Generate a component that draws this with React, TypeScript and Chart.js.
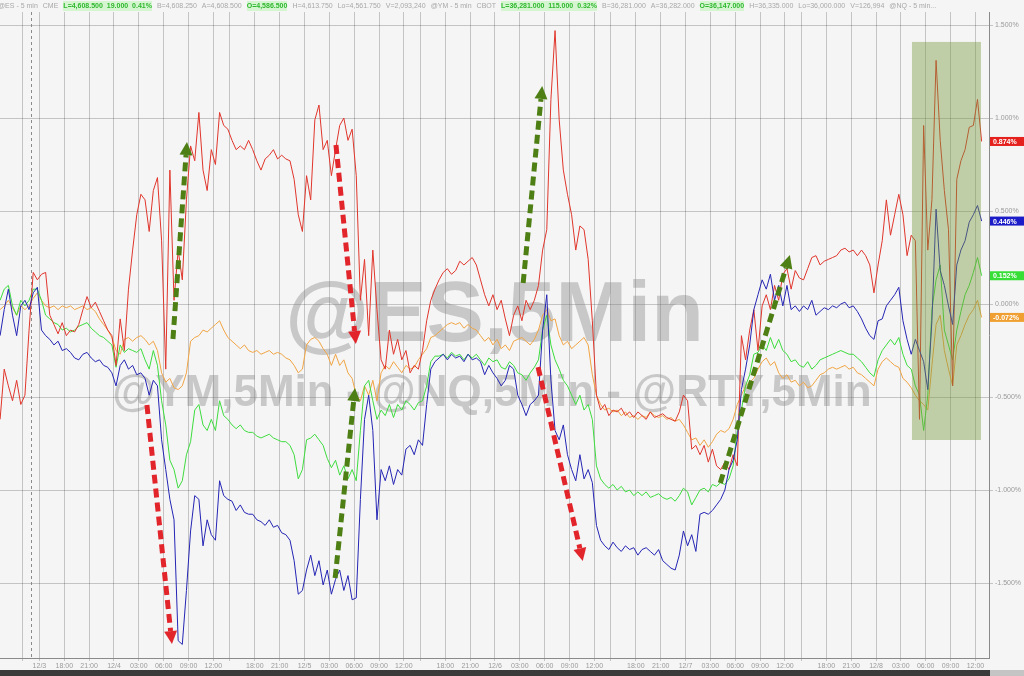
import React, { useEffect, useRef } from 'react';
import { Chart, registerables } from 'chart.js';

Chart.register(...registerables);

// ---- time grid (5-min bars sampled every half hour, hours from 12/4 00:00 on the session clock) ----
const START_HOUR = -13.75;
const STEP_HOURS = 0.5;

// ---- series values (% change) ----
const RTY_RED = [
  -0.62,-0.35,-0.44,-0.52,-0.41,-0.54,-0.49,-0.14,0.17,0.13,
  0.16,0.17,-0.06,-0.11,-0.16,-0.10,-0.17,-0.14,-0.15,-0.11,
  -0.03,0.04,-0.02,0.01,-0.04,-0.09,-0.14,-0.17,-0.33,-0.08,
  -0.25,0.08,0.29,0.48,0.59,0.56,0.39,0.61,0.68,0.34,
  -0.35,0.72,0.02,0.29,0.13,0.56,0.85,0.77,1.03,0.72,
  0.61,0.83,0.75,1.03,0.96,0.94,0.88,0.83,0.85,0.83,
  0.88,0.83,0.77,0.72,0.78,0.80,0.83,0.78,0.80,0.78,
  0.77,0.67,0.48,0.39,0.69,0.56,0.99,1.07,0.83,0.88,
  0.69,0.83,0.96,1.00,0.88,0.94,0.69,0.02,0.24,-0.17,
  0.29,-0.03,-0.30,-0.35,-0.14,-0.27,-0.19,-0.30,-0.25,-0.37,
  -0.33,-0.35,-0.25,-0.09,0.02,0.08,0.13,0.17,0.19,0.16,
  0.18,0.23,0.21,0.23,0.25,0.21,0.13,0.05,-0.01,0.05,
  -0.03,0.02,-0.08,-0.17,-0.06,-0.01,-0.09,0.02,-0.03,0.02,
  0.10,0.29,0.40,1.10,1.47,0.99,0.72,0.59,0.48,0.29,
  0.42,0.40,0.24,-0.09,-0.49,-0.57,-0.54,-0.60,-0.57,-0.58,
  -0.56,-0.60,-0.58,-0.61,-0.58,-0.60,-0.62,-0.58,-0.61,-0.60,
  -0.59,-0.61,-0.62,-0.63,-0.58,-0.49,-0.52,-0.78,-0.76,-0.81,
  -0.76,-0.85,-0.78,-0.87,-0.89,-0.85,-0.89,-0.81,-0.87,-0.17,
  -0.30,-0.14,-0.03,-0.25,-0.01,0.05,-0.03,0.10,0.02,0.16,
  0.19,0.08,0.18,0.14,0.13,0.19,0.25,0.26,0.21,0.23,
  0.24,0.25,0.26,0.29,0.30,0.28,0.29,0.26,0.29,0.26,
  0.21,0.06,0.21,0.34,0.56,0.37,0.48,0.59,0.48,0.26,
  0.37,0.34,-0.62,0.96,0.29,0.56,1.31,0.88,0.61,0.40,
  -0.44,0.67,0.77,0.83,0.95,0.96,1.10,0.874
];

const NQ_BLUE = [
  -0.17,-0.03,0.08,-0.06,-0.17,-0.01,0.02,-0.03,0.06,0.09,
  -0.14,-0.17,-0.19,-0.22,-0.20,-0.25,-0.24,-0.26,-0.29,-0.30,
  -0.27,-0.26,-0.29,-0.31,-0.30,-0.33,-0.34,-0.37,-0.44,-0.33,
  -0.30,-0.35,-0.33,-0.38,-0.37,-0.40,-0.49,-0.41,-0.44,-0.73,
  -0.89,-1.05,-1.16,-1.81,-1.83,-1.54,-1.22,-1.03,-1.05,-1.30,
  -1.16,-1.24,-1.27,-0.95,-1.03,-1.05,-1.06,-1.11,-1.08,-1.12,
  -1.13,-1.13,-1.16,-1.17,-1.19,-1.16,-1.20,-1.19,-1.23,-1.24,
  -1.27,-1.38,-1.56,-1.54,-1.43,-1.35,-1.46,-1.38,-1.51,-1.43,
  -1.56,-1.48,-1.43,-1.54,-1.46,-1.59,-1.58,-1.05,-0.62,-0.49,
  -0.68,-1.16,-0.89,-0.95,-0.87,-0.97,-0.89,-0.92,-0.78,-0.76,
  -0.81,-0.73,-0.76,-0.54,-0.35,-0.31,-0.29,-0.27,-0.30,-0.27,
  -0.29,-0.28,-0.31,-0.27,-0.30,-0.29,-0.31,-0.38,-0.33,-0.37,
  -0.40,-0.44,-0.41,-0.33,-0.35,-0.49,-0.54,-0.60,-0.54,-0.52,
  -0.49,-0.14,0.05,-0.41,-0.68,-0.73,-0.65,-0.81,-0.89,-0.95,
  -0.81,-0.94,-0.89,-0.96,-1.19,-1.27,-1.30,-1.32,-1.28,-1.31,
  -1.33,-1.30,-1.32,-1.31,-1.35,-1.32,-1.31,-1.33,-1.35,-1.32,
  -1.38,-1.40,-1.42,-1.43,-1.35,-1.22,-1.30,-1.24,-1.33,-1.13,
  -1.12,-1.13,-1.11,-1.08,-1.05,-1.00,-0.89,-0.84,-0.73,-0.46,
  -0.35,-0.22,-0.03,0.05,0.13,0.08,0.16,0.02,0.10,-0.01,
  0.10,-0.03,-0.01,-0.04,-0.01,-0.03,0.02,-0.06,-0.04,-0.02,
  -0.03,-0.01,-0.02,0.00,0.01,-0.02,-0.01,-0.04,-0.08,-0.13,
  -0.17,-0.19,-0.09,-0.08,-0.01,0.02,0.05,0.09,-0.09,-0.19,
  -0.27,-0.19,-0.25,-0.31,-0.46,-0.09,0.51,0.18,0.10,-0.01,
  -0.11,0.21,0.29,0.34,0.44,0.48,0.53,0.446
];

const ES_GREEN = [
  0.02,0.08,0.10,-0.01,-0.06,0.02,-0.01,0.02,0.08,0.08,
  0.02,-0.06,-0.08,-0.10,-0.11,-0.14,-0.13,-0.15,-0.14,-0.12,
  -0.11,-0.10,-0.13,-0.15,-0.17,-0.18,-0.20,-0.22,-0.34,-0.22,
  -0.26,-0.24,-0.25,-0.26,-0.24,-0.30,-0.35,-0.25,-0.33,-0.52,
  -0.65,-0.84,-0.89,-0.99,-0.95,-0.81,-0.74,-0.57,-0.54,-0.65,
  -0.68,-0.62,-0.68,-0.52,-0.60,-0.62,-0.65,-0.67,-0.65,-0.68,
  -0.69,-0.69,-0.71,-0.72,-0.71,-0.70,-0.72,-0.73,-0.74,-0.74,
  -0.76,-0.81,-0.94,-0.89,-0.73,-0.72,-0.70,-0.73,-0.76,-0.83,
  -0.88,-0.84,-0.92,-0.87,-0.94,-0.89,-0.95,-0.68,-0.44,-0.41,
  -0.52,-0.62,-0.57,-0.60,-0.54,-0.61,-0.54,-0.57,-0.52,-0.54,
  -0.57,-0.53,-0.52,-0.44,-0.31,-0.28,-0.28,-0.27,-0.29,-0.26,
  -0.28,-0.27,-0.30,-0.27,-0.29,-0.27,-0.30,-0.33,-0.29,-0.31,
  -0.30,-0.34,-0.35,-0.31,-0.33,-0.37,-0.38,-0.41,-0.37,-0.34,
  -0.30,-0.14,-0.06,-0.22,-0.30,-0.35,-0.41,-0.44,-0.49,-0.54,
  -0.49,-0.57,-0.54,-0.62,-0.87,-0.94,-0.97,-0.99,-0.97,-1.00,
  -0.98,-1.01,-1.00,-1.03,-1.01,-1.03,-1.01,-1.04,-1.03,-1.02,
  -1.04,-1.05,-1.04,-1.06,-1.03,-0.99,-1.01,-1.08,-1.04,-1.00,
  -0.99,-1.01,-0.97,-0.98,-0.96,-0.97,-0.94,-0.87,-0.68,-0.57,
  -0.44,-0.38,-0.27,-0.26,-0.22,-0.25,-0.18,-0.24,-0.19,-0.25,
  -0.27,-0.31,-0.30,-0.33,-0.34,-0.31,-0.35,-0.33,-0.30,-0.29,
  -0.28,-0.27,-0.26,-0.25,-0.26,-0.27,-0.27,-0.29,-0.31,-0.34,
  -0.37,-0.39,-0.30,-0.25,-0.22,-0.19,-0.22,-0.18,-0.27,-0.33,
  -0.35,-0.44,-0.49,-0.68,-0.49,-0.03,0.13,0.21,-0.14,-0.22,
  -0.30,-0.14,-0.04,0.05,0.10,0.17,0.25,0.152
];

const YM_ORANGE = [
  -0.03,-0.01,0.02,-0.02,-0.06,-0.01,-0.03,-0.01,0.03,0.06,
  0.02,-0.01,-0.02,-0.01,-0.03,-0.01,-0.02,-0.01,-0.03,-0.02,
  -0.01,-0.03,-0.02,-0.04,-0.08,-0.11,-0.14,-0.18,-0.25,-0.27,
  -0.19,-0.18,-0.20,-0.18,-0.17,-0.19,-0.22,-0.20,-0.25,-0.37,
  -0.42,-0.40,-0.45,-0.46,-0.44,-0.37,-0.20,-0.18,-0.17,-0.14,
  -0.15,-0.13,-0.11,-0.09,-0.14,-0.18,-0.20,-0.22,-0.24,-0.22,
  -0.25,-0.26,-0.25,-0.27,-0.26,-0.25,-0.27,-0.26,-0.27,-0.29,
  -0.30,-0.33,-0.37,-0.35,-0.22,-0.19,-0.18,-0.20,-0.24,-0.27,
  -0.33,-0.27,-0.33,-0.30,-0.37,-0.40,-0.49,-0.52,-0.44,-0.49,
  -0.41,-0.52,-0.37,-0.33,-0.35,-0.31,-0.34,-0.37,-0.33,-0.35,
  -0.34,-0.30,-0.27,-0.24,-0.18,-0.17,-0.15,-0.13,-0.11,-0.10,
  -0.11,-0.10,-0.13,-0.11,-0.13,-0.14,-0.17,-0.20,-0.18,-0.22,
  -0.19,-0.24,-0.22,-0.25,-0.20,-0.19,-0.18,-0.20,-0.22,-0.19,
  -0.14,-0.06,-0.03,-0.09,-0.08,-0.17,-0.22,-0.20,-0.24,-0.22,
  -0.20,-0.18,-0.22,-0.38,-0.49,-0.54,-0.57,-0.56,-0.58,-0.57,
  -0.60,-0.58,-0.61,-0.60,-0.62,-0.60,-0.61,-0.58,-0.60,-0.61,
  -0.60,-0.62,-0.61,-0.63,-0.62,-0.65,-0.69,-0.73,-0.72,-0.76,
  -0.73,-0.77,-0.74,-0.70,-0.68,-0.69,-0.67,-0.62,-0.54,-0.49,
  -0.44,-0.42,-0.40,-0.35,-0.31,-0.29,-0.33,-0.31,-0.37,-0.40,
  -0.38,-0.42,-0.41,-0.44,-0.42,-0.45,-0.44,-0.41,-0.38,-0.37,
  -0.35,-0.34,-0.35,-0.34,-0.33,-0.35,-0.34,-0.37,-0.38,-0.40,
  -0.42,-0.44,-0.35,-0.31,-0.29,-0.31,-0.33,-0.34,-0.40,-0.42,
  -0.45,-0.49,-0.52,-0.54,-0.57,-0.33,-0.11,-0.06,-0.25,-0.35,
  -0.44,-0.22,-0.17,-0.11,-0.06,-0.03,0.02,-0.072
];

// ---- axes ----
const TICK_HOURS = [-11,-10,-9,-6,-3,0,3,6,9,12,14,17,20,23,26,29,32,35,37,40,43,46,49,52,55,58,60,63,66,69,72,75,78,81,83,86,89,92,95,98,101,104];
const TICK_LABELS = ["","","12/3","18:00","21:00","12/4","03:00","06:00","09:00","12:00","","18:00","21:00","12/5","03:00","06:00","09:00","12:00","","18:00","21:00","12/6","03:00","06:00","09:00","12:00","","18:00","21:00","12/7","03:00","06:00","09:00","12:00","","18:00","21:00","12/8","03:00","06:00","09:00","12:00"];
const SESSION_MARK_HOUR = -10;
const Y_TICKS = [-1.5, -1, -0.5, 0, 0.5, 1, 1.5];
const X_MIN = -13.76;
const X_MAX = 105.64;
const Y_MIN = -1.903;
const Y_MAX = 1.570;

// ---- annotations (data units: hours, %) ----
const ARROW_RED = '#e2252b';
const ARROW_GREEN = '#4e7f14';
const ARROWS = [
  { from: [3.98, -0.543], to: [7.0, -1.828], color: ARROW_RED },
  { from: [7.12, -0.188], to: [8.81, 0.871], color: ARROW_GREEN },
  { from: [26.8, 0.855], to: [29.2, -0.215], color: ARROW_RED },
  { from: [26.7, -1.473], to: [29.1, -0.452], color: ARROW_GREEN },
  { from: [49.4, 0.113], to: [51.7, 1.172], color: ARROW_GREEN },
  { from: [51.2, -0.339], to: [56.6, -1.382], color: ARROW_RED },
  { from: [73.2, -0.962], to: [81.6, 0.263], color: ARROW_GREEN },
];
const SHADE = { x0: 96.34, x1: 104.67, y0: -0.731, y1: 1.409 };

const HEADER = [
  { t: '@ES - 5 min', hi: false }, { t: 'CME', hi: false },
  { t: 'L=4,608.500  19.000  0.41%', hi: true },
  { t: 'B=4,608.250', hi: false }, { t: 'A=4,608.500', hi: false },
  { t: 'O=4,586.500', hi: true },
  { t: 'H=4,613.750', hi: false }, { t: 'Lo=4,561.750', hi: false }, { t: 'V=2,093,240', hi: false },
  { t: '@YM - 5 min', hi: false }, { t: 'CBOT', hi: false },
  { t: 'L=36,281.000  115.000  0.32%', hi: true },
  { t: 'B=36,281.000', hi: false }, { t: 'A=36,282.000', hi: false },
  { t: 'O=36,147.000', hi: true },
  { t: 'H=36,335.000', hi: false }, { t: 'Lo=36,000.000', hi: false }, { t: 'V=126,994', hi: false },
  { t: '@NQ - 5 min...', hi: false },
];

const FONT = "'Liberation Sans', Arial, sans-serif";
const SERIES = [
  { name: '@NQ', data: NQ_BLUE, color: '#2424b4', box: '#1b1bc8', label: '0.446%' },
  { name: '@RTY', data: RTY_RED, color: '#e0352b', box: '#e5211d', label: '0.874%' },
  { name: '@ES', data: ES_GREEN, color: '#3ddc3d', box: '#36de36', label: '0.152%' },
  { name: '@YM', data: YM_ORANGE, color: '#f0a443', box: '#f0a033', label: '-0.072%' },
];

function drawArrow(ctx: CanvasRenderingContext2D, x1: number, y1: number, x2: number, y2: number, color: string) {
  const ang = Math.atan2(y2 - y1, x2 - x1);
  const head = 13, hw = 6.5;
  const bx = x2 - head * Math.cos(ang), by = y2 - head * Math.sin(ang);
  ctx.strokeStyle = color;
  ctx.lineWidth = 5;
  ctx.setLineDash([9, 5]);
  ctx.lineCap = 'butt';
  ctx.beginPath();
  ctx.moveTo(x1, y1);
  ctx.lineTo(bx, by);
  ctx.stroke();
  ctx.setLineDash([]);
  ctx.fillStyle = color;
  ctx.beginPath();
  ctx.moveTo(x2, y2);
  ctx.lineTo(bx + hw * Math.sin(ang), by - hw * Math.cos(ang));
  ctx.lineTo(bx - hw * Math.sin(ang), by + hw * Math.cos(ang));
  ctx.closePath();
  ctx.fill();
}

const decorPlugin = {
  id: 'decor',
  beforeDatasetsDraw(chart: any) {
    const { ctx, chartArea: a, scales } = chart;
    const x = scales.x;
    ctx.save();
    // session marker
    const sx = Math.round(x.getPixelForValue(SESSION_MARK_HOUR)) + 0.5;
    ctx.strokeStyle = '#8a8a8a';
    ctx.lineWidth = 1;
    ctx.setLineDash([3, 3]);
    ctx.beginPath();
    ctx.moveTo(sx, a.top);
    ctx.lineTo(sx, a.bottom);
    ctx.stroke();
    ctx.setLineDash([]);
    // watermarks
    ctx.fillStyle = 'rgba(125,125,125,0.38)';
    ctx.textAlign = 'center';
    ctx.textBaseline = 'alphabetic';
    ctx.font = `bold 86px ${FONT}`;
    ctx.fillText('@ES,5Min', a.left + a.width * 0.5, a.top + a.height * 0.509);
    ctx.font = `bold 44px ${FONT}`;
    ctx.fillText('@YM,5Min - @NQ,5Min - @RTY,5Min', a.left + a.width * 0.4975, a.top + a.height * 0.61);
    ctx.restore();
  },
  afterDatasetsDraw(chart: any) {
    const { ctx, chartArea: a, scales } = chart;
    const x = scales.x, y = scales.y;
    ctx.save();
    ctx.beginPath();
    ctx.rect(a.left, a.top, a.width, a.height);
    ctx.clip();
    // shaded box
    const l = x.getPixelForValue(SHADE.x0), r = x.getPixelForValue(SHADE.x1);
    const t = y.getPixelForValue(SHADE.y1), b = y.getPixelForValue(SHADE.y0);
    ctx.fillStyle = 'rgba(118,152,60,0.42)';
    ctx.fillRect(l, t, r - l, b - t);
    // arrows
    for (const ar of ARROWS) {
      drawArrow(ctx,
        x.getPixelForValue(ar.from[0]), y.getPixelForValue(ar.from[1]),
        x.getPixelForValue(ar.to[0]), y.getPixelForValue(ar.to[1]), ar.color);
    }
    ctx.restore();
  },
  afterDraw(chart: any) {
    const { ctx, chartArea: a, scales } = chart;
    const y = scales.y;
    ctx.save();
    ctx.font = `bold 7px ${FONT}`;
    ctx.textBaseline = 'middle';
    ctx.textAlign = 'left';
    for (const s of SERIES) {
      const last = s.data[s.data.length - 1];
      const cy = y.getPixelForValue(last);
      ctx.fillStyle = s.box;
      ctx.fillRect(a.right + 1, cy - 4.5, 34, 9);
      ctx.fillStyle = '#ffffff';
      ctx.fillText(s.label, a.right + 4, cy + 0.5);
    }
    ctx.restore();
  },
};

export default function App() {
  const canvasRef = useRef<HTMLCanvasElement | null>(null);

  useEffect(() => {
    document.body.style.margin = '0';
    const canvas = canvasRef.current;
    if (!canvas) return;
    const gridColor = 'rgba(0,0,0,0.2)';
    const chart = new Chart(canvas, {
      type: 'line',
      data: {
        datasets: SERIES.map((s) => ({
          label: s.name,
          data: s.data.map((v, i) => ({ x: START_HOUR + i * STEP_HOURS, y: v })),
          borderColor: s.color,
          borderWidth: 1,
          pointRadius: 0,
          tension: 0,
          fill: false,
        })),
      },
      options: {
        animation: false,
        responsive: false,
        maintainAspectRatio: false,
        layout: { padding: { top: 12, left: 0, right: 0, bottom: 6 } },
        plugins: { legend: { display: false }, tooltip: { enabled: false } },
        scales: {
          x: {
            type: 'linear',
            min: X_MIN,
            max: X_MAX,
            afterBuildTicks: (s: any) => { s.ticks = TICK_HOURS.map((v) => ({ value: v })); },
            afterFit: (s: any) => { s.height = 12; },
            ticks: {
              autoSkip: false,
              maxRotation: 0,
              minRotation: 0,
              padding: 1,
              color: '#9a9a9a',
              font: { size: 7, family: FONT },
              callback: (_v: any, i: number) => TICK_LABELS[i],
            },
            grid: {
              color: (c: any) => (c.tick && c.tick.value === SESSION_MARK_HOUR ? 'rgba(0,0,0,0)' : gridColor),
              lineWidth: 1,
              tickLength: 3,
            },
            border: { color: '#8a8a8a' },
          },
          y: {
            type: 'linear',
            position: 'right',
            min: Y_MIN,
            max: Y_MAX,
            afterBuildTicks: (s: any) => { s.ticks = Y_TICKS.map((v) => ({ value: v })); },
            afterFit: (s: any) => { s.width = 35; },
            ticks: {
              padding: 2,
              color: '#9a9a9a',
              font: { size: 7, family: FONT },
              callback: (v: any) => `${Number(v).toFixed(3)}%`,
            },
            grid: { color: gridColor, lineWidth: 1, tickLength: 4 },
            border: { color: '#8a8a8a' },
          },
        },
      },
      plugins: [decorPlugin],
    } as any);
    return () => chart.destroy();
  }, []);

  return (
    <div style={{ position: 'fixed', left: 0, top: 0, width: 1024, height: 676, background: '#f5f5f5', overflow: 'hidden' }}>
      <canvas ref={canvasRef} width={1024} height={676} style={{ position: 'absolute', left: 0, top: 0, width: 1024, height: 676 }} />
      <div style={{ position: 'absolute', left: -2, top: 1, height: 10, display: 'flex', whiteSpace: 'pre', font: `7px ${FONT}`, lineHeight: '9px', color: '#a8a8a8' }}>
        {HEADER.map((h, i) => (
          <span key={i} style={{ marginRight: 5, color: h.hi ? '#2eb82e' : '#a8a8a8', background: h.hi ? '#d4f5cf' : 'transparent', fontWeight: h.hi ? 'bold' : 'normal' }}>{h.t}</span>
        ))}
      </div>
      <div style={{ position: 'absolute', left: 0, top: 670, width: 990, height: 6, background: '#3a3a3a' }} />
      <div style={{ position: 'absolute', left: 990, top: 670, width: 34, height: 6, background: '#c4c4c4' }} />
    </div>
  );
}
